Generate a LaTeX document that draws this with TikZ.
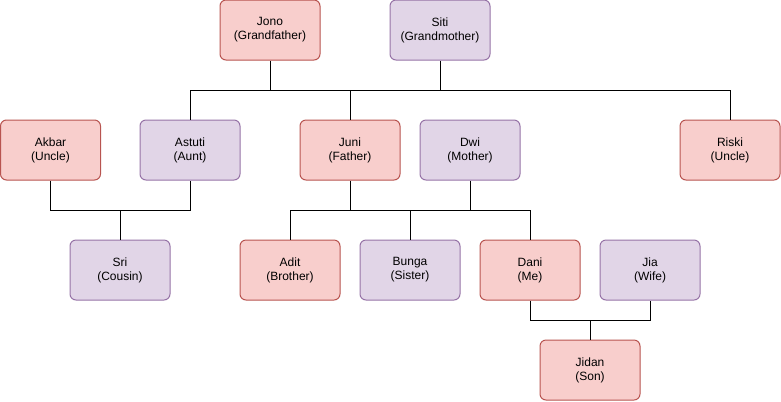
\documentclass[tikz,border=0pt]{standalone}
\usepackage{fontspec}
\setmainfont{Liberation Sans}
\usepackage{tikz}
\usepackage{xcolor}
\usetikzlibrary{positioning,calc}

\definecolor{maleFill}{HTML}{F8CECC}
\definecolor{maleLine}{HTML}{B85450}
\definecolor{femaleFill}{HTML}{E1D5E7}
\definecolor{femaleLine}{HTML}{9673A6}

\tikzset{
    person/.style={draw, rounded corners=4.5pt, line width=0.75pt, minimum width=75pt, minimum height=45pt,
        inner sep=0pt, align=center, font=\fontsize{9}{10.5}\selectfont},
    male/.style={person, fill=maleFill, draw=maleLine},
    female/.style={person, fill=femaleFill, draw=femaleLine},
    link/.style={line width=0.75pt}
}

\begin{document}
\begin{tikzpicture}[x=0.75pt, y=-0.75pt]
    \useasboundingbox (0,0) rectangle (781,401);

    % Grandparents
    \node[male] (jono) at (270,30) {Jono\\(Grandfather)};
    \node[female] (siti) at (440,30) {Siti\\(Grandmother)};

    % Second generation
    \node[male] (akbar) at (50.5,150) {Akbar\\(Uncle)};
    \node[female] (astuti) at (190,150) {Astuti\\(Aunt)};
    \node[male] (juni) at (350,150) {Juni\\(Father)};
    \node[female] (dwi) at (470,150) {Dwi\\(Mother)};
    \node[male] (riski) at (730,150) {Riski\\(Uncle)};

    % Third generation
    \node[female] (sri) at (120,270) {Sri\\(Cousin)};
    \node[male] (adit) at (290,270) {Adit\\(Brother)};
    \node[female] (bunga) at (410,270) {Bunga\\(Sister)};
    \node[male] (dani) at (530,270) {Dani\\(Me)};
    \node[female] (jia) at (650,270) {Jia\\(Wife)};

    % Fourth generation
    \node[male] (jidan) at (590,370) {Jidan\\(Son)};

    % Junction levels
    \coordinate (barA) at (0,90);
    \coordinate (barB) at (0,210);
    \coordinate (barC) at (0,320);

    % Jono + Siti -> children
    \draw[link] (jono.south) -- (jono.south |- barA);
    \draw[link] (siti.south) -- (siti.south |- barA);
    \draw[link] (astuti.north) |- (riski.north |- barA) -- (riski.north);
    \draw[link] (juni.north) -- (juni.north |- barA);

    % Akbar + Astuti -> Sri
    \draw[link] (akbar.south) |- (astuti.south |- barB) -- (astuti.south);
    \draw[link] (sri.north) -- (sri.north |- barB);

    % Juni + Dwi -> children
    \draw[link] (juni.south) -- (juni.south |- barB);
    \draw[link] (dwi.south) -- (dwi.south |- barB);
    \draw[link] (adit.north) |- (dani.north |- barB) -- (dani.north);
    \draw[link] (bunga.north) -- (bunga.north |- barB);

    % Dani + Jia -> Jidan
    \draw[link] (dani.south) |- (jia.south |- barC) -- (jia.south);
    \draw[link] (jidan.north) -- (jidan.north |- barC);
\end{tikzpicture}
\end{document}
